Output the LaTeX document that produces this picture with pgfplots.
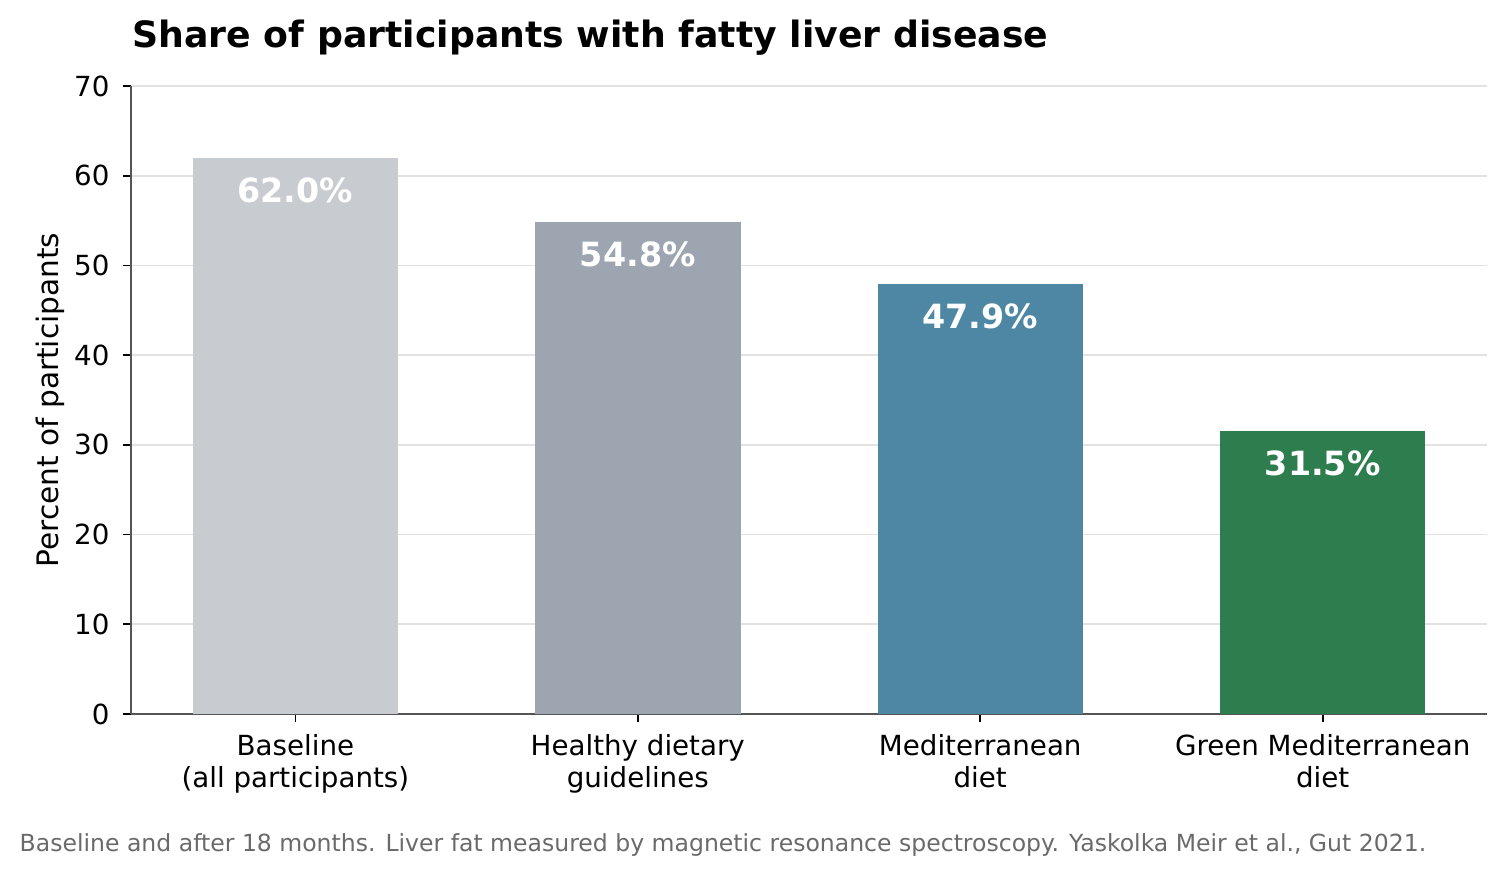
\documentclass[border=0pt]{standalone}
\usepackage{fontspec}
\setmainfont{DejaVu Sans}
\usepackage{pgfplots}
\pgfplotsset{compat=1.18}
\definecolor{cA}{HTML}{C8CBCF}
\definecolor{cB}{HTML}{9CA5B0}
\definecolor{cC}{HTML}{4E87A4}
\definecolor{cD}{HTML}{2E7D4E}
\definecolor{spine}{HTML}{555555}
\definecolor{gridc}{HTML}{E2E2E2}
\definecolor{capc}{HTML}{6A6A6A}
\begin{document}
\begin{tikzpicture}
\path[use as bounding box] (-62.88bp,-78.24bp) rectangle (660bp,342.72bp);
\begin{axis}[
  name=ax,
  at={(0,0)}, anchor=south west, scale only axis,
  width=650.9bp, height=301.4bp,
  xmin=-0.48, xmax=3.48, ymin=0, ymax=70,
  ytick={0,10,...,70},
  xtick={0,1,2,3},
  xticklabels={{Baseline\\(all participants)},{Healthy dietary\\guidelines},{Mediterranean\\diet},{Green Mediterranean\\diet}},
  /pgf/number format/assume math mode=true,
  axis x line*=bottom, axis y line*=left,
  axis line style={-, draw=spine, line width=0.8bp},
  tick align=outside, major tick length=3.84bp,
  tick style={draw=black, line width=0.8bp},
  xticklabel style={align=center, font=\fontsize{13.3bp}{15.2bp}\selectfont, inner sep=0pt, anchor=north, yshift=-6bp},
  yticklabel style={font=\fontsize{13.3bp}{15bp}\selectfont, inner sep=0pt, anchor=east, xshift=-6.3bp},
  ymajorgrids, grid style={draw=gridc, line width=0.8bp},
  ybar, bar width=0.6, bar shift=0pt,
  nodes near coords={\pgfmathprintnumber[fixed,precision=1,fixed zerofill]{\pgfplotspointmeta}\%},
  nodes near coords style={anchor=north, yshift=-9.3bp, inner sep=0pt, text=white, font=\bfseries\fontsize{16bp}{19bp}\selectfont},
  clip=false,
]
\addplot[fill=cA, draw=none] coordinates {(0,62.0)};
\addplot[fill=cB, draw=none] coordinates {(1,54.8)};
\addplot[fill=cC, draw=none] coordinates {(2,47.9)};
\addplot[fill=cD, draw=none] coordinates {(3,31.5)};
\end{axis}
\node[anchor=base west, inner sep=0pt, font=\bfseries\fontsize{17.4bp}{20bp}\selectfont] at (0.5bp,320.1bp) {Share of participants with fatty liver disease};
\node[rotate=90, inner sep=0pt, font=\fontsize{14.2bp}{16bp}\selectfont] at (-38.5bp,150.7bp) {Percent of participants};
\node[anchor=base west, inner sep=0pt, text=capc, font=\fontsize{11.3bp}{13bp}\selectfont] at (-53.6bp,-66.2bp) {Baseline and after 18 months. Liver fat measured by magnetic resonance spectroscopy. Yaskolka Meir et al., Gut 2021.};
\end{tikzpicture}
\end{document}
